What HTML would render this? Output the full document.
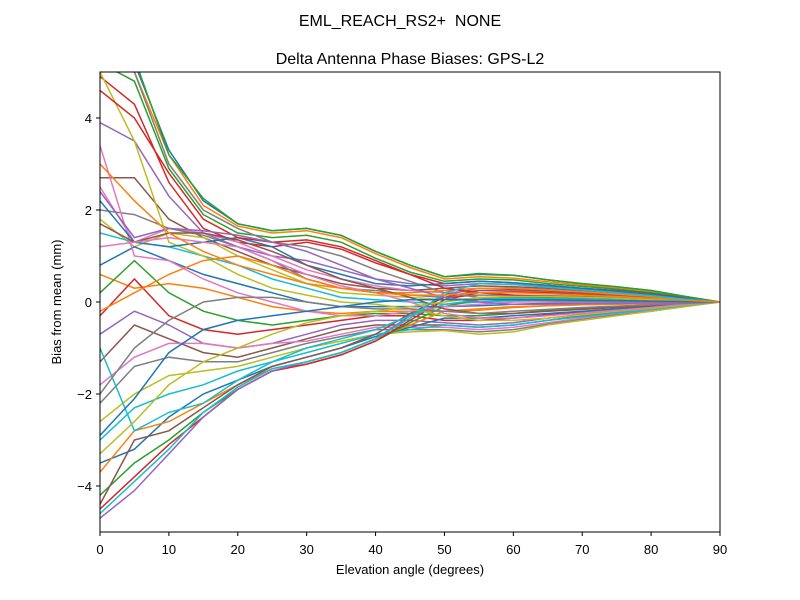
<!DOCTYPE html>
<html><head><meta charset="utf-8"><style>
body{margin:0;background:#fff;}
svg{display:block;font-family:"Liberation Sans","DejaVu Sans",sans-serif;}
</style></head><body>
<svg id="chart" width="800" height="600" viewBox="0 0 800 600">
<rect width="800" height="600" fill="#fff"/>
<text x="400" y="26" text-anchor="middle" font-size="16">EML_REACH_RS2+&#160; NONE</text>
<text x="410" y="64" text-anchor="middle" font-size="16">Delta Antenna Phase Biases: GPS-L2</text>
<defs><clipPath id="clip"><rect x="100" y="72" width="620" height="460"/></clipPath></defs>
<g id="series" clip-path="url(#clip)"></g>
<rect x="100" y="72" width="620" height="460" fill="none" stroke="#000" stroke-width="1"/>
<g id="xticks"></g>
<g id="yticks"></g>
<text x="410" y="574" text-anchor="middle" font-size="13">Elevation angle (degrees)</text>
<text x="61" y="302" text-anchor="middle" font-size="13" transform="rotate(-90 61 302)">Bias from mean (mm)</text>
</svg>
<script>
const elevations=[0,5,10,15,20,25,30,35,40,45,50,55,60,65,70,75,80,85,90];
const xTicks=[0,10,20,30,40,50,60,70,80,90];
const yTicks=[-4,-2,0,2,4];
const s1=[7,5.2,3.3,2.2,1.7,1.55,1.6,1.45,1.1,0.8,0.55,0.6,0.58,0.48,0.4,0.33,0.25,0.12,0];
const s2=[6,5.0,3.2,2.1,1.65,1.5,1.55,1.4,1.05,0.75,0.5,0.55,0.52,0.44,0.37,0.3,0.22,0.1,0];
const s3=[5.2,4.8,2.9,1.9,1.5,1.4,1.45,1.3,0.95,0.65,0.45,0.5,0.48,0.4,0.34,0.28,0.2,0.1,0];
const s4=[4.9,4.3,2.6,1.6,1.3,1.2,1.3,1.15,0.85,0.6,0.4,0.45,0.42,0.36,0.3,0.25,0.18,0.09,0];
const s5=[3.9,3.5,2.3,1.5,1.2,1.0,0.9,0.7,0.5,0.4,0.35,0.4,0.38,0.33,0.28,0.22,0.16,0.08,0];
const s6=[2.7,2.7,1.8,1.4,1.1,0.8,0.6,0.4,0.3,0.25,0.3,0.35,0.33,0.3,0.25,0.2,0.15,0.07,0];
const s7=[2.5,1.3,1.6,1.5,1.3,1.0,0.7,0.5,0.35,0.25,0.2,0.25,0.25,0.22,0.2,0.17,0.12,0.06,0];
const s8=[2.0,1.9,1.6,1.45,1.2,0.9,0.5,0.3,0.25,0.15,0.1,0.15,0.15,0.14,0.12,0.1,0.08,0.04,0];
const s9=[1.8,1.2,1.5,1.4,1.0,0.7,0.4,0.2,0.15,0.1,0.05,0.08,0.1,0.1,0.08,0.07,0.05,0.03,0];
const s10=[1.5,1.3,1.2,1.0,0.8,0.5,0.3,0.1,0.05,0.0,-0.05,0,0.03,0.04,0.03,0.03,0.02,0.01,0];
const s11=[0.8,1.2,0.9,0.6,0.4,0.2,0.0,-0.1,-0.1,-0.1,-0.1,-0.08,-0.05,-0.03,-0.02,-0.02,-0.01,0,0];
const s12=[0.6,0.3,0.4,0.3,0.1,-0.1,-0.2,-0.25,-0.2,-0.2,-0.2,-0.18,-0.12,-0.08,-0.06,-0.05,-0.03,-0.01,0];
const s13=[0.2,0.9,0.2,-0.2,-0.4,-0.5,-0.4,-0.3,-0.25,-0.25,-0.3,-0.3,-0.25,-0.18,-0.14,-0.1,-0.07,-0.03,0];
const s14=[-0.3,0.5,-0.3,-0.6,-0.7,-0.6,-0.5,-0.4,-0.3,-0.3,-0.4,-0.4,-0.35,-0.28,-0.22,-0.16,-0.11,-0.05,0];
const s15=[-0.7,-0.2,-0.5,-0.9,-1.0,-0.9,-0.7,-0.5,-0.4,-0.4,-0.45,-0.5,-0.45,-0.35,-0.27,-0.2,-0.14,-0.06,0];
const s16=[-1.3,-0.5,-0.8,-1.1,-1.2,-1.0,-0.8,-0.6,-0.5,-0.5,-0.5,-0.55,-0.5,-0.4,-0.3,-0.23,-0.16,-0.07,0];
const s17=[-1.8,-1.2,-0.9,-0.9,-1.0,-0.9,-0.85,-0.7,-0.55,-0.55,-0.55,-0.6,-0.55,-0.45,-0.35,-0.26,-0.18,-0.08,0];
const s18=[-2.2,-1.4,-1.2,-1.3,-1.3,-1.1,-0.9,-0.75,-0.6,-0.6,-0.6,-0.65,-0.6,-0.48,-0.38,-0.28,-0.2,-0.09,0];
const s19=[-2.6,-2.0,-1.6,-1.5,-1.4,-1.2,-1.0,-0.85,-0.7,-0.65,-0.62,-0.7,-0.65,-0.5,-0.4,-0.3,-0.2,-0.1,0];
const s20=[-3.0,-2.3,-2.0,-1.8,-1.5,-1.3,-1.1,-0.9,-0.7,-0.6,-0.5,-0.55,-0.5,-0.4,-0.32,-0.24,-0.16,-0.07,0];
const s21=[-3.5,-3.2,-2.5,-2.0,-1.7,-1.4,-1.2,-1.0,-0.75,-0.55,-0.35,-0.35,-0.3,-0.25,-0.2,-0.15,-0.1,-0.05,0];
const s22=[-3.7,-2.8,-2.6,-2.2,-1.8,-1.45,-1.3,-1.1,-0.8,-0.5,-0.2,-0.15,-0.1,-0.08,-0.06,-0.05,-0.03,-0.01,0];
const s23=[-4.2,-3.5,-3.0,-2.4,-1.9,-1.5,-1.35,-1.15,-0.85,-0.45,-0.1,0.05,0.1,0.1,0.08,0.07,0.05,0.02,0];
const s24=[-4.5,-3.8,-3.1,-2.5,-1.9,-1.5,-1.35,-1.15,-0.85,-0.4,0.05,0.2,0.22,0.2,0.17,0.13,0.09,0.04,0];
const s25=[-4.7,-4.1,-3.3,-2.5,-1.9,-1.5,-1.3,-1.1,-0.8,-0.3,0.15,0.3,0.3,0.27,0.22,0.17,0.12,0.05,0];
const s26=[-4.4,-3.0,-2.8,-2.3,-1.8,-1.4,-1.2,-1.0,-0.7,-0.25,0.1,0.25,0.27,0.24,0.2,0.15,0.1,0.05,0];
const s27=[3.4,1.0,0.9,0.5,0.2,0.0,-0.2,-0.3,-0.3,-0.2,-0.1,-0.05,0,0,0,0,0,0,0];
const s28=[5.5,5.0,3.0,2.0,1.6,1.3,1.2,1.0,0.7,0.45,0.2,0.1,0.05,0.03,0.02,0.01,0.01,0,0];
const s29=[5,3.5,1.3,1.0,0.6,0.3,0.15,0.0,-0.05,-0.15,-0.3,-0.4,-0.4,-0.35,-0.28,-0.2,-0.14,-0.06,0];
const s30=[-1.0,-2.8,-2.4,-2.2,-1.7,-1.3,-1.0,-0.8,-0.6,-0.3,-0.05,0.05,0.08,0.07,0.06,0.05,0.03,0.01,0];
const s31=[2.2,1.3,1.2,1.3,1.4,1.2,0.8,0.6,0.4,0.35,0.4,0.45,0.42,0.36,0.3,0.24,0.17,0.08,0];
const s32=[-0.2,0.2,0.6,0.9,1.0,0.8,0.5,0.3,0.2,0.2,0.25,0.3,0.3,0.26,0.22,0.17,0.12,0.05,0];
const s33=[6.5,5.3,3.2,2.25,1.7,1.55,1.6,1.45,1.1,0.8,0.55,0.62,0.58,0.48,0.4,0.33,0.25,0.12,0];
const s34=[4.6,4.0,2.8,1.8,1.4,1.3,1.35,1.2,0.9,0.6,0.3,0.2,0.15,0.12,0.1,0.08,0.05,0.02,0];
const s35=[2.4,1.4,1.6,1.55,1.45,1.3,1.1,0.8,0.5,0.3,0.1,0.0,-0.05,-0.05,-0.04,-0.03,-0.02,-0.01,0];
const s36=[1.7,1.3,1.5,1.5,1.35,1.1,0.8,0.5,0.3,0.1,-0.15,-0.25,-0.25,-0.2,-0.16,-0.12,-0.08,-0.04,0];
const s37=[1.2,1.3,1.4,1.3,1.2,0.9,0.6,0.35,0.2,0.0,-0.25,-0.35,-0.35,-0.3,-0.24,-0.18,-0.12,-0.05,0];
const s38=[-2.0,-1.0,-0.4,0.0,0.1,0.1,0.0,-0.1,-0.15,-0.15,-0.2,-0.25,-0.2,-0.16,-0.12,-0.09,-0.06,-0.03,0];
const s39=[-3.3,-2.6,-1.8,-1.3,-1.0,-0.7,-0.45,-0.3,-0.2,-0.1,0.0,0.1,0.12,0.12,0.1,0.08,0.05,0.02,0];
const s40=[-4.6,-3.9,-3.2,-2.4,-1.85,-1.45,-1.3,-1.1,-0.8,-0.35,0.2,0.4,0.38,0.32,0.26,0.2,0.14,0.06,0];
const s41=[-2.9,-2.1,-1.1,-0.6,-0.4,-0.3,-0.2,-0.1,0.0,0.05,0.05,0.05,0.05,0.05,0.04,0.03,0.02,0.01,0];
const s42=[3.0,2.2,1.5,1.1,0.8,0.6,0.4,0.3,0.2,0.15,0.15,0.2,0.2,0.18,0.15,0.12,0.08,0.04,0];
const seriesList=[s1,s2,s3,s4,s5,s6,s7,s8,s9,s10,s11,s12,s13,s14,s15,s16,s17,s18,s19,s20,s21,s22,s23,s24,s25,s26,s27,s28,s29,s30,s31,s32,s33,s34,s35,s36,s37,s38,s39,s40,s41,s42];
const colors=["#1f77b4","#ff7f0e","#2ca02c","#d62728","#9467bd","#8c564b","#e377c2","#7f7f7f","#bcbd22","#17becf"];
const NS="http://www.w3.org/2000/svg";
function xs(v){return 100+(v-0)/90*620;}
function ys(v){return 302-v*46;}
const g=document.getElementById('series');
seriesList.forEach((s,i)=>{
  const p=document.createElementNS(NS,'polyline');
  p.setAttribute('points',s.map((v,j)=>xs(elevations[j]).toFixed(1)+','+ys(v).toFixed(1)).join(' '));
  p.setAttribute('fill','none');
  p.setAttribute('stroke',colors[i%10]);
  p.setAttribute('stroke-width','1.5');
  
  
  g.appendChild(p);
});
const xg=document.getElementById('xticks');
xTicks.forEach(t=>{
  const l=document.createElementNS(NS,'line');
  l.setAttribute('x1',xs(t));l.setAttribute('x2',xs(t));l.setAttribute('y1',532);l.setAttribute('y2',536);l.setAttribute('stroke','#000');
  
  
  xg.appendChild(l);
  const tx=document.createElementNS(NS,'text');
  tx.setAttribute('x',xs(t));tx.setAttribute('y',554);tx.setAttribute('text-anchor','middle');tx.setAttribute('font-size','13');
  tx.textContent=t;
  
  
  xg.appendChild(tx);
});
const yg=document.getElementById('yticks');
yTicks.forEach(t=>{
  const l=document.createElementNS(NS,'line');
  l.setAttribute('x1',96);l.setAttribute('x2',100);l.setAttribute('y1',ys(t));l.setAttribute('y2',ys(t));l.setAttribute('stroke','#000');
  
  
  yg.appendChild(l);
  const tx=document.createElementNS(NS,'text');
  tx.setAttribute('x',92);tx.setAttribute('y',ys(t)+5);tx.setAttribute('text-anchor','end');tx.setAttribute('font-size','13');
  tx.textContent=t<0?'\u2212'+(-t):String(t);
  
  
  yg.appendChild(tx);
});
</script>
</body></html>
